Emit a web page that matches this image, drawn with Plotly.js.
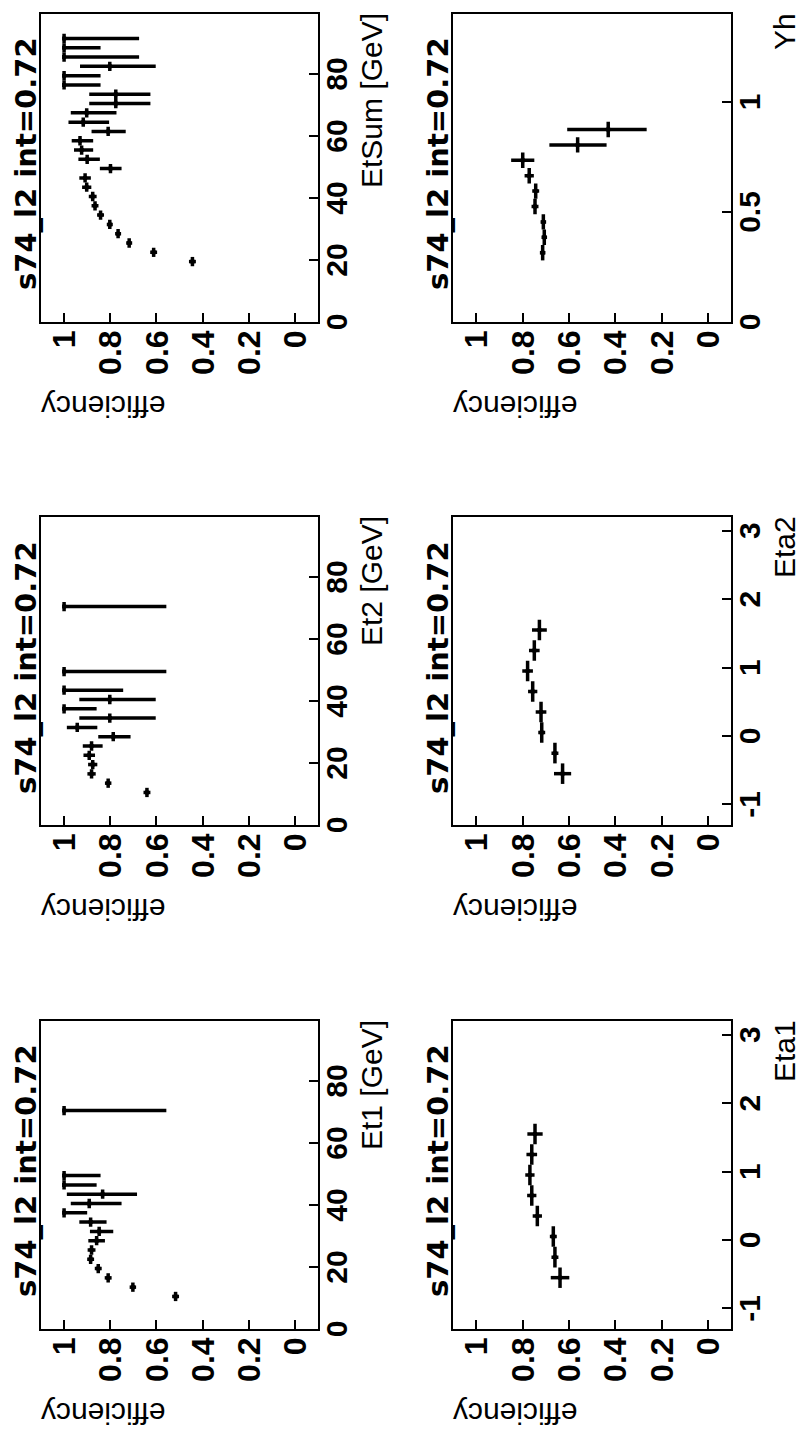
<!DOCTYPE html>
<html>
<head>
<meta charset="utf-8">
<script src="https://cdn.plot.ly/plotly-3.0.1.min.js"></script>
<style>
html,body{margin:0;padding:0;background:#fff;overflow:hidden;width:800px;height:1430px;}
#plot{position:absolute;left:0;top:0;width:1430px;height:800px;transform-origin:0 0;transform:translate(0px,1430px) rotate(-90deg);}
</style>
</head>
<body>
<div id="plot"></div>
<script>
// ---- data ----
const titleText = "s74_l2 int=0.72";
const yTitle = "efficiency";
const xTitles = ["Et1 [GeV]", "Et2 [GeV]", "EtSum [GeV]", "Eta1", "Eta2", "Yh"];

const et1X = [10.5,13.5,16.5,19.5,22.5,25.5,28.5,31.5,34.5,37.5,40.5,43.5,46.5,49.5,70.5];
const et1Eff = [0.517,0.702,0.809,0.852,0.885,0.881,0.859,0.848,0.885,1.0,0.891,0.833,1.0,1.0,1.0];
const et1Up = [0.015,0.014,0.015,0.015,0.015,0.017,0.036,0.040,0.049,0,0.080,0.155,0,0,0];
const et1Dn = [0.015,0.014,0.015,0.015,0.015,0.017,0.036,0.061,0.069,0.100,0.140,0.149,0.141,0.158,0.443];

const et2X = [10.5,13.5,16.5,19.5,22.5,25.5,28.5,31.5,34.5,37.5,40.5,43.5,49.5,70.5];
const et2Eff = [0.641,0.809,0.881,0.876,0.891,0.881,0.787,0.943,0.802,1.0,0.802,1.0,1.0,1.0];
const et2Up = [0.015,0.014,0.018,0.020,0.025,0.038,0.065,0.045,0.132,0,0.132,0,0,0];
const et2Dn = [0.015,0.014,0.018,0.020,0.025,0.048,0.075,0.087,0.199,0.141,0.199,0.256,0.443,0.443];

const etsX = [19.5,22.5,25.5,28.5,31.5,34.5,37.5,40.5,43.5,46.5,49.5,52.5,55.5,58.5,61.5,64.5,67.5,70.5,73.5,76.5,79.5,82.5,85.5,88.5,91.5];
const etsEff = [0.444,0.612,0.718,0.766,0.802,0.842,0.866,0.876,0.902,0.909,0.799,0.900,0.924,0.931,0.809,0.917,0.902,0.776,0.776,1.0,1.0,0.802,1.0,1.0,1.0];
const etsUp = [0.015,0.015,0.013,0.013,0.013,0.015,0.015,0.017,0.020,0.025,0.046,0.038,0.033,0.036,0.072,0.064,0.069,0.115,0.115,0,0,0.129,0,0,0];
const etsDn = [0.015,0.015,0.013,0.013,0.013,0.015,0.015,0.017,0.020,0.025,0.048,0.055,0.050,0.057,0.076,0.112,0.129,0.150,0.150,0.158,0.158,0.199,0.325,0.158,0.325];

const etaX = [-0.55,-0.25,0.05,0.35,0.65,0.95,1.25,1.55];
const eta1Eff = [0.638,0.660,0.667,0.736,0.760,0.768,0.760,0.746];
const eta1Err = [0.040,0.015,0.015,0.020,0.020,0.020,0.023,0.033];
const eta2Eff = [0.627,0.660,0.717,0.720,0.756,0.778,0.749,0.727];
const eta2Err = [0.037,0.015,0.015,0.023,0.020,0.023,0.023,0.032];

const yhX = [0.315,0.385,0.455,0.525,0.595,0.665,0.735,0.805,0.875];
const yhEff = [0.713,0.706,0.710,0.746,0.743,0.771,0.799,0.562,0.430];
const yhUp = [0.012,0.012,0.012,0.015,0.015,0.020,0.050,0.122,0.177];
const yhDn = [0.012,0.012,0.012,0.015,0.015,0.020,0.050,0.125,0.166];

const etTicks = [0,20,40,60,80];
const etTickText = ["0","20","40","60","80"];
const etaTicks = [-1,0,1,2,3];
const etaTickText = ["-1","0","1","2","3"];
const yhTicks = [0,0.5,1];
const yhTickText = ["0","0.5","1"];
const effTicks = [0,0.2,0.4,0.6,0.8,1];
const effTickText = ["0","0.2","0.4","0.6","0.8","1"];

// ---- layout geometry (unrotated 1430x800 canvas) ----
const W = 1430, H = 800;
const colPx = [[101,409],[605,913],[1108,1416]];
const rowPx = [[41,318],[453,731]];

function trace(i, x, y, up, dn, xerr) {
  return {
    type: 'scatter', mode: 'markers',
    x: x, y: y,
    xaxis: 'x' + (i === 1 ? '' : i), yaxis: 'y' + (i === 1 ? '' : i),
    marker: {size: 4, color: 'black', symbol: 'square'},
    error_y: {type: 'data', symmetric: false, array: up, arrayminus: dn, width: 0, thickness: 3.5, color: 'black'},
    error_x: {type: 'constant', value: xerr, width: 0, thickness: 3.5, color: 'black'},
    hoverinfo: 'skip'
  };
}

const data = [
  trace(1, et1X, et1Eff, et1Up, et1Dn, 1.5),
  trace(2, et2X, et2Eff, et2Up, et2Dn, 1.5),
  trace(3, etsX, etsEff, etsUp, etsDn, 1.5),
  trace(4, etaX, eta1Eff, eta1Err, eta1Err, 0.15),
  trace(5, etaX, eta2Eff, eta2Err, eta2Err, 0.15),
  trace(6, yhX, yhEff, yhUp, yhDn, 0.035)
];

const tickFontX = {family: 'Liberation Sans, Arial, sans-serif', size: 30, color: 'black', weight: 'bold'};
const tickFontY = {family: 'Liberation Sans, Arial, sans-serif', size: 32, color: 'black', weight: 'bold'};

const layout = {
  width: W, height: H,
  margin: {l: 0, r: 0, t: 0, b: 0},
  paper_bgcolor: 'white', plot_bgcolor: 'white',
  showlegend: false,
  annotations: []
};

const xRanges = [[0,99.4],[0,99.4],[0,99.4],[-1.3,3.2],[-1.3,3.2],[0,1.4]];
const xTv = [etTicks, etTicks, etTicks, etaTicks, etaTicks, yhTicks];
const xTt = [etTickText, etTickText, etTickText, etaTickText, etaTickText, yhTickText];

for (let i = 1; i <= 6; i++) {
  const r = i <= 3 ? 0 : 1;
  const c = (i - 1) % 3;
  const xd = [colPx[c][0] / W, colPx[c][1] / W];
  const yd = [1 - rowPx[r][1] / H, 1 - rowPx[r][0] / H];
  const sfx = i === 1 ? '' : String(i);
  const common = {showline: true, mirror: true, linecolor: 'black', linewidth: 2,
    ticks: 'inside', ticklen: 9, tickwidth: 2, tickcolor: 'black',
    showgrid: false, zeroline: false, fixedrange: true};
  layout['xaxis' + sfx] = Object.assign({}, common, {
    domain: xd, range: xRanges[i - 1], anchor: 'y' + sfx,
    tickmode: 'array', tickvals: xTv[i - 1], ticktext: xTt[i - 1], tickfont: tickFontX,
    ticklabelstandoff: -9
  });
  layout['yaxis' + sfx] = Object.assign({}, common, {
    domain: yd, range: [-0.1, 1.1], anchor: 'x' + sfx,
    tickmode: 'array', tickvals: effTicks, ticktext: effTickText, tickfont: tickFontY
  });
  const x0 = colPx[c][0], x1 = colPx[c][1];
  const y0 = rowPx[r][0], y1 = rowPx[r][1];
  // panel title
  layout.annotations.push({
    xref: 'paper', yref: 'paper', x: ((x0 + x1) / 2 + 4) / W, y: 1 - (y0 - 15) / H,
    xanchor: 'center', yanchor: 'middle', showarrow: false, text: titleText,
    font: {family: 'DejaVu Sans, sans-serif', size: 29, color: 'black', weight: 'bold'}
  });
  // x-axis title (right-aligned to axis end)
  layout.annotations.push({
    xref: 'paper', yref: 'paper', x: (x1 + 3) / W, y: 1 - (y1 + 53) / H,
    xanchor: 'right', yanchor: 'middle', showarrow: false, text: xTitles[i - 1],
    font: {family: 'Liberation Sans, Arial, sans-serif', size: 30, color: 'black'}
  });
  // y-axis title (rotated, aligned to top end)
  layout.annotations.push({
    xref: 'paper', yref: 'paper', x: (x0 - 84) / W, y: 1 - (y0 - 2) / H,
    xanchor: 'center', yanchor: 'top', showarrow: false, text: yTitle, textangle: -90,
    font: {family: 'Liberation Sans, Arial, sans-serif', size: 30, color: 'black'}
  });
}

Plotly.newPlot('plot', data, layout, {staticPlot: true, displayModeBar: false});
</script>
</body>
</html>
